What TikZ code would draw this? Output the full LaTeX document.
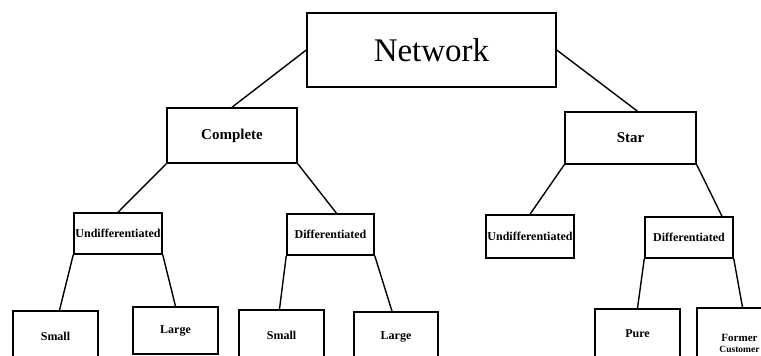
\documentclass[tikz,border=0pt]{standalone}
\usepackage{fontspec}
\setmainfont{Liberation Serif}

\tikzset{
  tbox/.style={draw, rectangle, line width=1.5pt, inner sep=0pt},
  top/.style={font=\fontsize{33}{36}\selectfont},
  mid/.style={font=\fontsize{15}{17}\selectfont\bfseries},
  low/.style={font=\fontsize{12}{13}\selectfont\bfseries},
  edge/.style={line width=1.4pt}
}

\begin{document}
\begin{tikzpicture}[x=1pt,y=-1pt]
    \useasboundingbox (0,0) rectangle (761,356);
    \clip (0,0) rectangle (761,356);

    % root and first level
    \node[tbox, top, minimum width=249pt, minimum height=74pt] (network) at (431.5,50) {Network};
    \node[tbox, mid, minimum width=130pt, minimum height=55pt] (complete) at (232,135.5) {Complete};
    \node[tbox, mid, minimum width=131pt, minimum height=52pt] (star) at (630.5,138) {Star};

    % second level
    \node[tbox, low, minimum width=88pt, minimum height=41pt] (undiffL) at (118,233.5) {Undifferentiated};
    \node[tbox, low, minimum width=87pt, minimum height=41pt] (diffL) at (330.5,234.5) {Differentiated};
    \node[tbox, low, minimum width=88pt, minimum height=43pt] (undiffR) at (530,236.5) {Undifferentiated};
    \node[tbox, low, minimum width=88pt, minimum height=41pt] (diffR) at (689,237.5) {Differentiated};

    % leaves (cut off at the bottom edge)
    \node[tbox, low, minimum width=85pt, minimum height=50pt] (smallL) at (55.5,336) {Small};
    \node[tbox, low, minimum width=85pt, minimum height=47pt] (largeL) at (175.5,330.5) {Large};
    \node[tbox, low, minimum width=85pt, minimum height=50pt] (smallM) at (281.5,335) {Small};
    \node[tbox, low, minimum width=84pt, minimum height=50pt] (largeM) at (396,337) {Large};
    \node[tbox, low, minimum width=85pt, minimum height=50pt] (pure) at (637.5,334) {Pure};
    \node[tbox, low, minimum width=85pt, minimum height=70pt, align=center,
          font=\fontsize{11}{12}\selectfont\bfseries] (former) at (739.5,343)
          {Former\\[-1pt]{\fontsize{9.5}{10}\selectfont Customer}};

    % links
    \draw[edge] (network.west) -- (complete.north);
    \draw[edge] (network.east) -- ([xshift=7pt]star.north);
    \draw[edge] (complete.south west) -- (undiffL.north);
    \draw[edge] (complete.south east) -- ([xshift=6pt]diffL.north);
    \draw[edge] (star.south west) -- (undiffR.north);
    \draw[edge] (star.south east) -- ([xshift=33pt]diffR.north);
    \draw[edge] (undiffL.south west) -- ([xshift=4pt]smallL.north);
    \draw[edge] (undiffL.south east) -- (largeL.north);
    \draw[edge] (diffL.south west) -- ([xshift=-2pt]smallM.north);
    \draw[edge] (diffL.south east) -- ([xshift=-4pt]largeM.north);
    \draw[edge] (diffR.south west) -- (pure.north);
    \draw[edge] (diffR.south east) -- ([xshift=3pt]former.north);
\end{tikzpicture}
\end{document}
